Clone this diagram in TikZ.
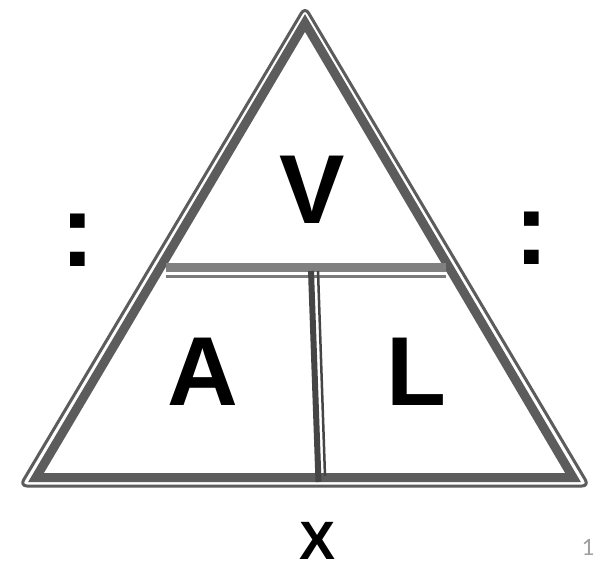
\documentclass[tikz,border=0pt]{standalone}
\usepackage{fontspec}
\setmainfont{Liberation Sans}
\newfontfamily\digitfont{Carlito}
\definecolor{frame}{HTML}{5C5C5C}
\definecolor{bar}{HTML}{808080}
\definecolor{stem}{HTML}{454545}
\definecolor{pagenum}{HTML}{A0A0A0}
\begin{document}
\begin{tikzpicture}[x=1pt,y=-1pt,
  thinframe/.style={draw=frame,line width=3pt,rounded corners=7pt,line join=round},
  thickframe/.style={draw=frame,line width=9pt,line join=miter},
  bigletter/.style={inner sep=0pt,anchor=base,font=\fontsize{98}{98}\selectfont\bfseries},
  colonmark/.style={inner sep=0pt,anchor=base,font=\fontsize{104}{104}\selectfont\bfseries},
]
\useasboundingbox (0,0) rectangle (594,565);
\fill[white] (0,0) rectangle (594,565);
% triangle frame
\coordinate (oT) at (305,7);
\coordinate (oR) at (589,486);
\coordinate (oL) at (20,486);
\coordinate (iT) at (305,23);
\coordinate (iR) at (573,477.5);
\coordinate (iL) at (36,477.5);
\draw[thinframe] (oT) -- (oR) -- (oL) -- cycle;
\draw[thickframe] (iT) -- (iR) -- (iL) -- cycle;
% horizontal divider
\coordinate (hA) at (166,267.5);
\coordinate (hB) at (446,267.5);
\coordinate (hC) at (166,276.5);
\coordinate (hD) at (446,276.5);
\draw[bar,line width=9pt] (hA) -- (hB);
\draw[bar!95!black,line width=3pt] (hC) -- (hD);
% vertical divider
\coordinate (vA) at (311,271);
\coordinate (vB) at (318.5,482);
\coordinate (vC) at (318,271);
\coordinate (vD) at (325,476);
\draw[stem,line width=6pt] (vA) -- (vB);
\draw[stem,line width=2.5pt] (vC) -- (vD);
% letters
\node[bigletter] (V) at (312,223) {V};
\node[bigletter] (A) at (203,405) {A};
\node[bigletter] (L) at (416,405) {L};
\node[inner sep=0pt,anchor=base,font=\fontsize{54}{54}\selectfont\bfseries] (X) at (318,559) {X};
\node[colonmark] (cl) at (78,266) {:};
\node[colonmark] (cr) at (532,264) {:};
\node[inner sep=0pt,anchor=base,text=pagenum,font=\digitfont\fontsize{25}{25}\selectfont] (pg) at (588,555) {1};
\end{tikzpicture}
\end{document}
